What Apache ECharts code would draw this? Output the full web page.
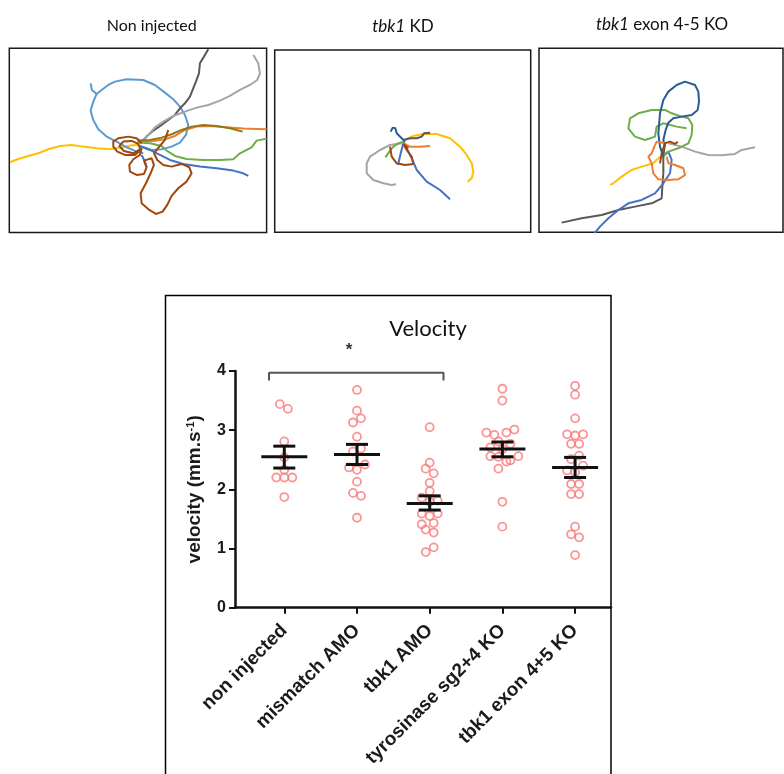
<!DOCTYPE html>
<html><head><meta charset="utf-8">
<script src="https://cdn.jsdelivr.net/npm/echarts@6/dist/echarts.min.js"></script>
<style>html,body{margin:0;padding:0;background:#fff}#c{width:784px;height:774px}</style>
</head><body><div id="c"></div>
<script>
// ---------- scatter data ----------
const categories = ['non injected','mismatch AMO','tbk1 AMO','tyrosinase sg2+4 KO','tbk1 exon 4+5 KO'];
const yTicks = [0,1,2,3,4];
const vNonInjected = [3.44,3.36,2.81,2.54,2.33,2.20,2.20,2.20,1.87];
const jNonInjected = [-0.55,0.45,0,0,0,-1,0,1,0];
const vMismatch = [3.68,3.33,3.13,3.20,2.89,2.64,2.69,2.37,2.33,2.42,2.13,1.94,1.89,1.52];
const jMismatch = [0,0,-0.5,0.5,0,-0.5,0.5,-1,0,1,0,-0.5,0.5,0];
const vTbk1AMO = [3.05,2.45,2.35,2.27,2.11,1.97,1.86,1.81,1.79,1.59,1.55,1.59,1.41,1.43,1.32,1.27,0.94,1.02];
const jTbk1AMO = [0,0,-0.5,0.5,0,0,-1,1,0,-1,0,1,-1,0.5,-0.5,0.5,-0.5,0.5];
const vTyr = [3.70,3.50,2.96,2.92,2.96,3.01,2.81,2.77,2.71,2.68,2.56,2.55,2.47,2.49,2.56,2.35,1.79,1.37];
const jTyr = [0,0,-2,-1,0.5,1.5,-0.5,1,-1.5,0,-1.5,-0.5,0.5,1,2,-0.5,0,0];
const vTbk1KO = [3.75,3.60,3.20,2.93,2.91,2.93,2.77,2.77,2.57,2.51,2.40,2.32,2.29,2.09,2.09,1.92,1.92,1.37,1.24,1.19,0.89];
const jTbk1KO = [0,0,0,-1,0,1,-0.5,0.5,0.5,-0.5,1,-1,0,-0.5,0.5,-0.5,0.5,0,-0.5,0.5,0];
const means = [2.55,2.59,1.76,2.68,2.37];
const semLow = [2.36,2.42,1.65,2.55,2.20];
const semHigh = [2.73,2.76,1.89,2.80,2.54];
const bracketX = [-0.21,2.19];
const bracketY = [3.84,3.97];

// ---------- track data (arbitrary image units) ----------
const p1DarkGray = [[625,28],[612,50],[600,70],[597,100],[588,125],[578,150],[570,170],[555,190],[540,205],[525,225],[505,240],[485,255],[460,272],[440,290],[425,305]];
const p1LightGray = [[760,45],[775,70],[780,100],[772,120],[750,135],[720,150],[690,168],[660,182],[625,195],[590,203],[555,215],[520,228],[490,245],[465,262],[445,285],[428,305]];
const p1LightBlueA = [[272,130],[276,150],[290,162],[305,150],[325,135],[345,125],[380,118],[430,120],[465,135],[495,158],[520,178],[540,200],[555,225],[565,255],[558,285],[540,308],[515,320],[485,328],[455,330],[430,322]];
const p1LightBlueB = [[290,162],[280,185],[272,212],[280,240],[295,268],[320,290],[350,305],[380,322],[410,335],[430,340]];
const p1Blue = [[420,318],[450,330],[480,345],[510,360],[550,372],[600,380],[650,385],[700,392],[730,400],[745,408]];
const p1BlueB = [[425,345],[435,365],[440,382]];
const p1Orange = [[420,305],[460,303],[495,298],[525,288],[555,270],[590,260],[630,258],[680,262],[730,266],[770,267],[800,268]];
const p1Olive = [[412,302],[450,300],[485,293],[515,283],[545,270],[575,260],[610,255],[650,258],[690,265],[728,275]];
const p1Green = [[412,308],[450,310],[485,318],[500,332],[525,348],[560,357],[610,360],[660,360],[700,358],[720,340],[755,322],[770,302],[800,296]];
const p1Yellow = [[30,367],[55,357],[85,348],[115,340],[145,328],[180,318],[215,315],[250,320],[290,325],[330,328],[365,322],[395,316],[415,315]];
const p1Brown = [[425,310],[410,295],[385,290],[355,295],[340,305],[340,320],[352,335],[375,345],[405,345],[422,330],[415,312],[395,303],[370,305],[358,318],[372,333],[400,340],[425,325],[420,345],[400,358],[388,375],[390,395],[410,405],[432,402],[440,382],[432,362],[455,355],[462,375],[452,400],[438,430],[422,460],[425,490],[448,510],[468,522],[488,515],[502,495],[515,468],[535,445],[560,425],[575,400],[568,382],[545,372],[515,380],[490,375],[472,360],[462,340],[478,320],[495,300],[505,270]];

const p2DarkBlue = [[362,395],[368,383],[376,385],[380,400],[395,415],[405,425]];
const p2Blue = [[400,425],[410,445],[425,475],[440,510],[470,545],[510,570],[540,598]];
const p2BlueB = [[400,430],[392,460],[384,495]];
const p2DarkGray = [[400,420],[420,415],[440,415],[455,410],[462,400],[480,398]];
const p2Yellow = [[405,420],[430,408],[460,402],[500,402],[540,415],[570,440],[590,465],[605,490],[610,515],[605,535],[593,545]];
const p2Orange = [[400,430],[420,440],[450,440],[480,438]];
const p2Green = [[400,425],[385,430],[370,440],[358,455],[346,472]];
const p2LightGray = [[395,430],[360,435],[330,450],[300,470],[290,490],[290,520],[310,540],[340,550],[365,555],[378,553]];
const p2Brown = [[360,440],[365,470],[380,490],[405,495],[430,492],[425,470],[410,450],[400,432],[405,428],[415,445]];

const p3DarkBlue = [[385,470],[375,440],[370,400],[375,340],[385,300],[400,275],[425,255],[450,245],[480,255],[490,275],[492,305],[488,330],[470,345],[440,350],[415,355],[400,368],[392,390],[385,420],[390,440]];
const p3Green = [[385,470],[400,455],[430,445],[460,430],[470,405],[472,375],[460,355],[440,350],[410,340],[390,330],[350,330],[310,340],[285,355],[280,385],[300,410],[330,420],[360,410],[365,380],[385,370],[425,380],[455,385]];
const p3Blue = [[380,470],[400,455],[410,480],[405,520],[385,550],[360,580],[320,600],[280,610],[250,630],[220,655],[195,680],[178,700]];
const p3DarkGray = [[390,430],[385,470],[385,520],[382,560],[380,595],[350,610],[300,620],[250,630],[200,645],[140,655],[80,668]];
const p3LightGray = [[400,430],[440,440],[480,455],[520,465],[560,466],[600,462],[620,450],[660,442]];
const p3Orange = [[390,430],[365,425],[358,440],[350,460],[340,470],[350,490],[355,520],[370,538],[400,540],[430,538],[450,525],[445,505],[420,495],[400,490],[395,470]];
const p3Yellow = [[375,470],[355,490],[320,500],[290,510],[260,530],[235,550],[225,555]];
const p3Brown = [[375,490],[380,460],[390,430],[405,425],[420,432],[428,425]];

const C = {darkgray:'#595959',lightgray:'#a5a5a5',lightblue:'#5b9bd5',blue:'#4472c4',darkblue:'#255e91',orange:'#ed7d31',yellow:'#ffc000',green:'#70ad47',brown:'#9e480e',olive:'#8c7a1a'};

const panels = [
  {grid:{left:9.3,top:48.3,width:257.3,height:184.3}, x:[28,800], y:[25,578],
   tracks:[[p1Yellow,C.yellow],[p1LightBlueA,C.lightblue],[p1LightBlueB,C.lightblue],[p1DarkGray,C.darkgray],[p1LightGray,C.lightgray],[p1Blue,C.blue],[p1BlueB,C.blue],[p1Green,C.green],[p1Orange,C.orange],[p1Olive,C.olive],[p1Brown,C.brown]]},
  {grid:{left:274.7,top:50,width:256,height:182.3}, x:[14,782], y:[150,697],
   tracks:[[p2LightGray,C.lightgray],[p2Yellow,C.yellow],[p2Blue,C.blue],[p2BlueB,C.blue],[p2DarkGray,C.darkgray],[p2Orange,C.orange],[p2Green,C.green],[p2DarkBlue,C.darkblue],[p2Brown,C.brown]]},
  {grid:{left:539,top:48.3,width:244,height:184}, x:[12,744], y:[145,697],
   tracks:[[p3DarkGray,C.darkgray],[p3Blue,C.blue],[p3LightGray,C.lightgray],[p3Yellow,C.yellow],[p3Green,C.green],[p3DarkBlue,C.darkblue],[p3Orange,C.orange],[p3Brown,C.brown]]}
];

const grids = [], xAxes = [], yAxes = [], series = [];
panels.forEach((p,i)=>{
  grids.push(Object.assign({show:true,borderColor:'#1a1a1a',borderWidth:1.5,backgroundColor:'#fff'},p.grid));
  xAxes.push({type:'value',gridIndex:i,min:p.x[0],max:p.x[1],show:false});
  yAxes.push({type:'value',gridIndex:i,min:p.y[0],max:p.y[1],inverse:true,show:false});
  p.tracks.forEach(t=>{
    series.push({type:'line',xAxisIndex:i,yAxisIndex:i,data:t[0],symbol:'none',silent:true,
      lineStyle:{color:t[1],width:2},clip:true});
  });
});

// main chart grid
const MI = 3;
const pxPerCat = 72.7;
const slot = 8/pxPerCat;
grids.push({left:235,top:371,width:376,height:236.7});
xAxes.push({type:'value',gridIndex:MI,min:-0.678,max:(611-284.3)/pxPerCat,
  splitLine:{show:false},
  axisLine:{show:true,onZero:false,lineStyle:{color:'#111',width:2.5}},
  axisTick:{show:true,customValues:[0,1,2,3,4],length:6,lineStyle:{color:'#111',width:2}},
  axisLabel:{show:true,customValues:[0,1,2,3,4],rotate:45,margin:20,
    formatter:v=>categories[Math.round(v)],
    fontFamily:'Liberation Sans',fontWeight:'bold',fontSize:19,color:'#1a1a1a'}});
yAxes.push({type:'value',gridIndex:MI,min:0,max:4,interval:1,
  splitLine:{show:false},
  axisLine:{show:true,onZero:false,lineStyle:{color:'#111',width:2.5}},
  axisTick:{show:true,length:6,lineStyle:{color:'#111',width:2}},
  axisLabel:{fontFamily:'Liberation Sans',fontWeight:'bold',fontSize:16,color:'#1a1a1a',margin:9,
    formatter:v=>String(yTicks[yTicks.indexOf(v)])},
  name:'{a|velocity (mm.s}{s|-1}{a|)}',nameLocation:'middle',nameGap:30,nameRotate:90,
  nameTextStyle:{rich:{a:{fontFamily:'Liberation Sans',fontWeight:'bold',fontSize:19,color:'#1a1a1a'},
    s:{fontFamily:'Liberation Sans',fontWeight:'bold',fontSize:11,color:'#1a1a1a',verticalAlign:'top',padding:[0,0,9,0]}}}
});

const groups = [[vNonInjected,jNonInjected],[vMismatch,jMismatch],[vTbk1AMO,jTbk1AMO],[vTyr,jTyr],[vTbk1KO,jTbk1KO]];
groups.forEach((g,gi)=>{
  series.push({type:'scatter',xAxisIndex:MI,yAxisIndex:MI,symbol:'circle',symbolSize:8,
    data:g[0].map((v,k)=>[gi+g[1][k]*slot,v]),
    itemStyle:{color:'rgba(255,255,255,0)',borderColor:'#f77b7b',borderWidth:1.8}});
});
series.push({type:'custom',xAxisIndex:MI,yAxisIndex:MI,z:5,
  data:means.map((m,i)=>[i,m,semLow[i],semHigh[i]]),
  renderItem:(params,api)=>{
    const x=api.value(0);
    const pm=api.coord([x,api.value(1)]), pl=api.coord([x,api.value(2)]), ph=api.coord([x,api.value(3)]);
    const st={stroke:'#111',lineWidth:3};
    return {type:'group',children:[
      {type:'line',shape:{x1:pm[0]-23,y1:pm[1],x2:pm[0]+23,y2:pm[1]},style:st},
      {type:'line',shape:{x1:pl[0],y1:pl[1],x2:ph[0],y2:ph[1]},style:st},
      {type:'line',shape:{x1:pl[0]-11,y1:pl[1],x2:pl[0]+11,y2:pl[1]},style:st},
      {type:'line',shape:{x1:ph[0]-11,y1:ph[1],x2:ph[0]+11,y2:ph[1]},style:st}
    ]};
  }});
series.push({type:'line',xAxisIndex:MI,yAxisIndex:MI,symbol:'none',clip:false,
  data:[[bracketX[0],bracketY[0]],[bracketX[0],bracketY[1]],[bracketX[1],bracketY[1]],[bracketX[1],bracketY[0]]],
  lineStyle:{color:'#555',width:2}});

const chart = echarts.init(document.getElementById('c'),null,{renderer:'canvas'});
chart.setOption({
  animation:false,
  title:[
    {text:'Non injected',left:146.7,top:13,textAlign:'center',textStyle:{fontFamily:'Lato',fontWeight:'normal',fontSize:16,color:'#111'}},
    {text:'{i|tbk1} KD',left:398,top:13,textAlign:'center',textStyle:{fontFamily:'Lato',fontWeight:'normal',fontSize:17,color:'#111',rich:{i:{fontFamily:'Lato',fontStyle:'italic',fontSize:17,color:'#111'}}}},
    {text:'{i|tbk1} exon 4-5 KO',left:657,top:11,textAlign:'center',textStyle:{fontFamily:'Lato',fontWeight:'normal',fontSize:17,color:'#111',rich:{i:{fontFamily:'Lato',fontStyle:'italic',fontSize:17,color:'#111'}}}},
    {text:'Velocity',left:423,top:313,textAlign:'center',textStyle:{fontFamily:'Lato',fontWeight:'normal',fontSize:22,color:'#111'}}
  ],
  graphic:[
    {type:'rect',shape:{x:165.5,y:295.5,width:445.5,height:520},style:{fill:'none',stroke:'#000',lineWidth:1.5},silent:true},
    {type:'text',x:349,y:350,style:{text:'*',fontFamily:'Liberation Sans',fontWeight:'bold',fontSize:17,fill:'#333',align:'center',verticalAlign:'middle'}}
  ],
  grid:grids, xAxis:xAxes, yAxis:yAxes, series:series
});
</script></body></html>
